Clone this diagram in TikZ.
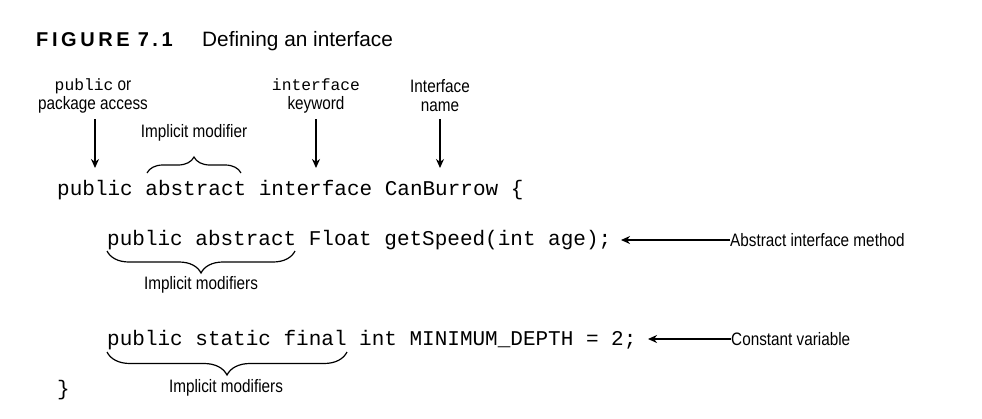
\documentclass[tikz,border=0pt]{standalone}
\usepackage{fontspec}
\setmainfont{Liberation Sans}
\newfontfamily\codefont{Liberation Mono}
\newfontfamily\labfont[FakeStretch=0.85]{Liberation Sans}
\newfontfamily\titlefont[LetterSpace=18]{Liberation Sans}
\usetikzlibrary{arrows.meta,decorations.pathreplacing}
\begin{document}
\begin{tikzpicture}[x=1pt,y=-1pt,
  code/.style={font=\codefont\fontsize{21}{25}\selectfont, anchor=base west, inner sep=0pt},
  lab/.style={font=\labfont\fontsize{18}{19}\selectfont, align=center, inner sep=0pt},
  arr/.style={line width=1.5pt, -{Stealth[length=9pt,width=8pt]}},
  brc/.style={decorate, decoration={brace, amplitude=#1}, line width=1.2pt}]
\useasboundingbox (0,0) rectangle (982,418);
% title
\node[anchor=base west, inner sep=0pt, font=\titlefont\bfseries\fontsize{20}{22}\selectfont] (fig) at (36,46) {FIGURE\hspace{8pt}7.1};
\node[anchor=base west, inner sep=0pt, font=\fontsize{20.8}{22}\selectfont] (cap) at (202,46) {Defining an interface};
% code
\node[code] (l1) at (57,195) {public abstract interface CanBurrow \{};
\node[code] (l2) at (107,245) {public abstract Float getSpeed(int age);};
\node[code] (l3) at (107,345) {public static final int MINIMUM\_DEPTH = 2;};
\node[code] (l4) at (57,395) {\}};
% top labels
\node[lab] (pub) at (93,96) {{\codefont\fontsize{16.3}{18}\selectfont public} or\\package access};
\node[lab] (kw) at (316,96) {{\codefont\fontsize{16.3}{18}\selectfont interface}\\keyword};
\node[lab] (nm) at (440,96) {Interface\\name};
\node[lab] (im1) at (194,133) {Implicit modifier};
\coordinate (pubA) at (95,119); \coordinate (pubB) at (95,168);
\coordinate (kwA) at (316,119); \coordinate (kwB) at (316,168);
\coordinate (nmA) at (440,119); \coordinate (nmB) at (440,168);
\draw[arr] (pubA) -- (pubB);
\draw[arr] (kwA) -- (kwB);
\draw[arr] (nmA) -- (nmB);
\coordinate (b1a) at (147,173); \coordinate (b1b) at (241,173);
\draw[brc=16pt] (b1a) -- (b1b);
% line 2 annotations
\coordinate (b2a) at (107,251); \coordinate (b2b) at (295,251);
\draw[brc=22pt] (b2b) -- (b2a);
\node[lab] (im2) at (201,285) {Implicit modifiers};
\node[lab, anchor=west] (aim) at (730,240) {Abstract interface method};
\coordinate (t2) at (621,240);
\draw[arr] (aim.west) -- (t2);
% line 3 annotations
\coordinate (b3a) at (107,352); \coordinate (b3b) at (347,352);
\draw[brc=23pt] (b3b) -- (b3a);
\node[lab] (im3) at (226,388) {Implicit modifiers};
\node[lab, anchor=west] (cv) at (731,339) {Constant variable};
\coordinate (t3) at (648,339);
\draw[arr] (cv.west) -- (t3);
\end{tikzpicture}
\end{document}
